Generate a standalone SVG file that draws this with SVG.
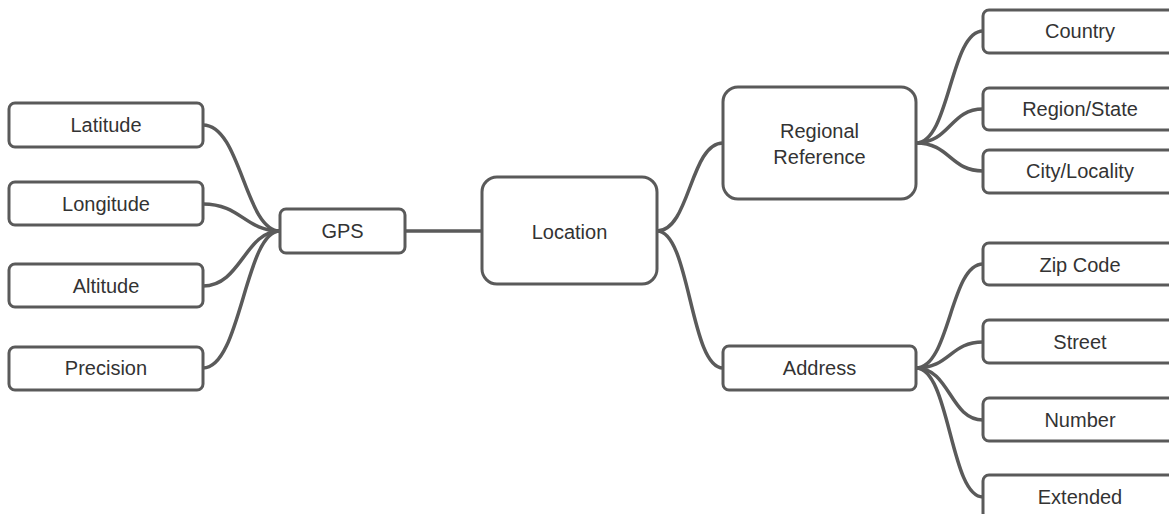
<svg xmlns="http://www.w3.org/2000/svg" width="1169" height="514" viewBox="0 0 1169 514">
<style>
.n{fill:#fff;stroke:#5a5a5a;stroke-width:3}
.t{font-family:"Liberation Sans",Arial,sans-serif;font-size:20px;fill:#333;text-anchor:middle}
.c{fill:none;stroke:#5a5a5a;stroke-width:3.5;stroke-linecap:round}
</style>
<rect width="1169" height="514" fill="#fff"/>
<g id="connectors">
<path class="c" d="M203 125 C241 125 245 231 280 231"/>
<path class="c" d="M203 204 C241 204 245 231 280 231"/>
<path class="c" d="M203 286 C241 286 245 231 280 231"/>
<path class="c" d="M203 368 C241 368 245 231 280 231"/>
<path class="c" d="M405 231 L482 231"/>
<path class="c" d="M657 231 C690 231 690 143 723 143"/>
<path class="c" d="M657 231 C690 231 690 368 723 368"/>
<path class="c" d="M916 143 C950 143 950 31 983 31"/>
<path class="c" d="M916 143 C950 143 950 109 983 109"/>
<path class="c" d="M916 143 C950 143 950 171 983 171"/>
<path class="c" d="M916 368 C950 368 950 264 983 264"/>
<path class="c" d="M916 368 C950 368 950 342 983 342"/>
<path class="c" d="M916 368 C950 368 950 420 983 420"/>
<path class="c" d="M916 368 C950 368 950 497 983 497"/>
</g>
<g id="latitude"><rect class="n" x="9" y="103" width="194" height="44" rx="6"/><text class="t" x="106" y="132">Latitude</text></g>
<g id="longitude"><rect class="n" x="9" y="182" width="194" height="43" rx="6"/><text class="t" x="106" y="211">Longitude</text></g>
<g id="altitude"><rect class="n" x="9" y="264" width="194" height="43" rx="6"/><text class="t" x="106" y="293">Altitude</text></g>
<g id="precision"><rect class="n" x="9" y="347" width="194" height="43" rx="6"/><text class="t" x="106" y="375">Precision</text></g>
<g id="gps"><rect class="n" x="280" y="209" width="125" height="44" rx="6"/><text class="t" x="342.5" y="238">GPS</text></g>
<g id="location"><rect class="n" x="482" y="177" width="175" height="107" rx="15"/><text class="t" x="569.5" y="239">Location</text></g>
<g id="regional-reference"><rect class="n" x="723" y="87" width="193" height="112" rx="15"/><text class="t" x="819.5" y="138">Regional</text><text class="t" x="819.5" y="164">Reference</text></g>
<g id="address"><rect class="n" x="723" y="346" width="193" height="44" rx="6"/><text class="t" x="819.5" y="375">Address</text></g>
<g id="country"><rect class="n" x="983" y="10" width="194" height="43" rx="6"/><text class="t" x="1080" y="38">Country</text></g>
<g id="region-state"><rect class="n" x="983" y="88" width="194" height="42" rx="6"/><text class="t" x="1080" y="116">Region/State</text></g>
<g id="city-locality"><rect class="n" x="983" y="150" width="194" height="43" rx="6"/><text class="t" x="1080" y="178">City/Locality</text></g>
<g id="zip-code"><rect class="n" x="983" y="243" width="194" height="42" rx="6"/><text class="t" x="1080" y="272">Zip Code</text></g>
<g id="street"><rect class="n" x="983" y="320" width="194" height="43" rx="6"/><text class="t" x="1080" y="349">Street</text></g>
<g id="number"><rect class="n" x="983" y="398" width="194" height="43" rx="6"/><text class="t" x="1080" y="427">Number</text></g>
<g id="extended"><rect class="n" x="983" y="475" width="194" height="44" rx="6"/><text class="t" x="1080" y="504">Extended</text></g>
</svg>
